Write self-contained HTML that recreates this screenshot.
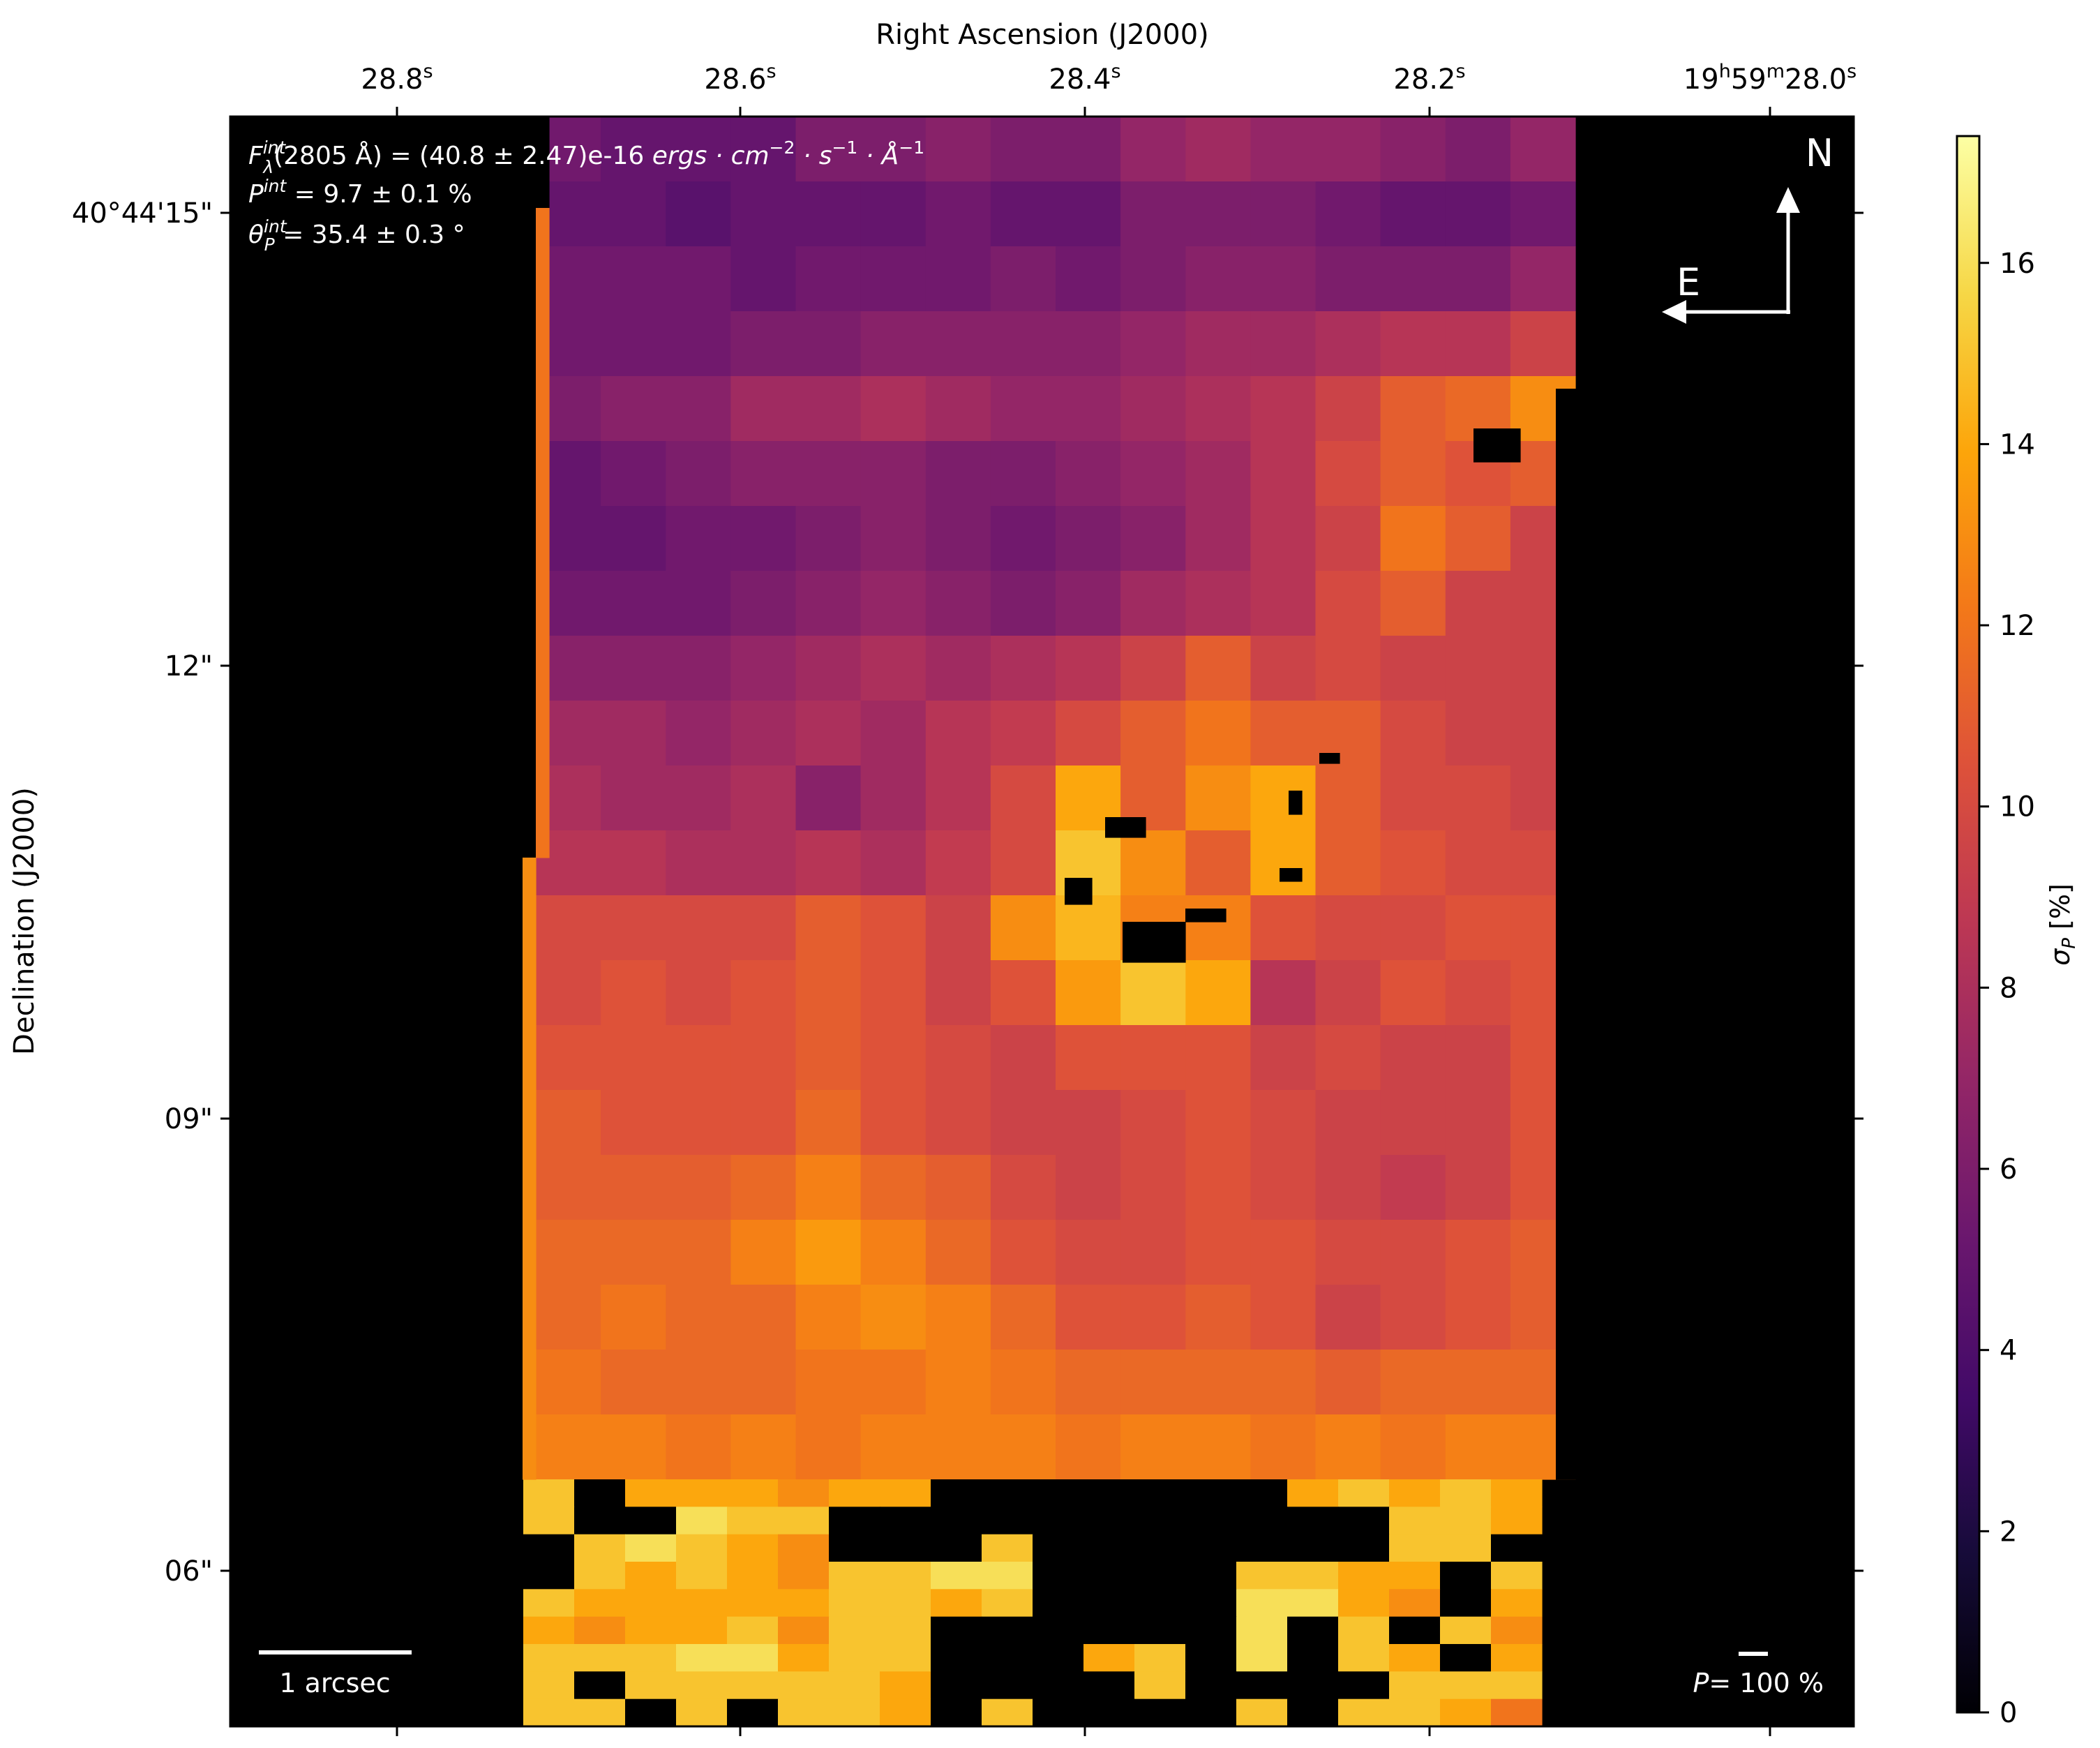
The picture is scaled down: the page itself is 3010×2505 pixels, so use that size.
<!DOCTYPE html>
<html><head><meta charset="utf-8"><style>
html,body{margin:0;padding:0;background:#fff;}
svg{display:block;font-family:"DejaVu Sans","Liberation Sans",sans-serif;}
</style></head><body>
<svg id="fig" width="3010" height="2505" viewBox="0 0 3010 2505" xmlns="http://www.w3.org/2000/svg">
<defs>
<linearGradient id="cbgrad" x1="0" y1="1" x2="0" y2="0">
<stop offset="0" stop-color="#000004"/><stop offset="0.1" stop-color="#160b39"/><stop offset="0.2" stop-color="#420a68"/><stop offset="0.3" stop-color="#6a176e"/><stop offset="0.4" stop-color="#932667"/><stop offset="0.5" stop-color="#bc3754"/><stop offset="0.6" stop-color="#dd513a"/><stop offset="0.7" stop-color="#f37819"/><stop offset="0.8" stop-color="#fca50a"/><stop offset="0.9" stop-color="#f6d746"/><stop offset="1" stop-color="#fcffa4"/>
</linearGradient>
<clipPath id="axclip"><rect x="330" y="167" width="2327" height="2307"/></clipPath>
</defs>
<rect x="330" y="167" width="2327" height="2307" fill="#000"/>
<g id="heat" clip-path="url(#axclip)"></g>
<g id="overlay"></g>
<rect x="330" y="167" width="2327" height="2307" fill="none" stroke="#000" stroke-width="3"/>
<g id="ticks"></g>
<text x="1494" y="63" font-size="40" text-anchor="middle">Right Ascension (J2000)</text>
<text transform="translate(48,1320) rotate(-90)" font-size="40" text-anchor="middle">Declination (J2000)</text>

<g fill="#fff" font-size="36">
<text x="356" y="235"><tspan font-style="italic">F</tspan><tspan font-size="25" font-style="italic" dy="-15">int</tspan><tspan font-size="25" font-style="italic" dx="-32" dy="28">λ</tspan><tspan dy="-13">(2805 Å) = (40.8 ± 2.47)e-16 </tspan><tspan font-style="italic">ergs · cm</tspan><tspan font-size="25" dy="-15">−2</tspan><tspan font-style="italic" dy="15"> · s</tspan><tspan font-size="25" dy="-15">−1</tspan><tspan font-style="italic" dy="15"> · Å</tspan><tspan font-size="25" dy="-15">−1</tspan></text>
<text x="356" y="290"><tspan font-style="italic">P</tspan><tspan font-size="25" font-style="italic" dy="-15">int</tspan><tspan dy="15"> = 9.7 ± 0.1 %</tspan></text>
<text x="356" y="348"><tspan font-style="italic">θ</tspan><tspan font-size="25" font-style="italic" dy="-15">int</tspan><tspan font-size="25" font-style="italic" dx="-32" dy="26">P</tspan><tspan dy="-11"> = 35.4 ± 0.3 °</tspan></text>
</g>

<g>
<line x1="2563" y1="450" x2="2563" y2="300" stroke="#fff" stroke-width="5"/>
<polygon points="2563,268 2546,305 2580,305" fill="#fff"/>
<line x1="2566" y1="447" x2="2412" y2="447" stroke="#fff" stroke-width="5"/>
<polygon points="2382,447 2417,430 2417,464" fill="#fff"/>
<text x="2608" y="238" fill="#fff" font-size="54" text-anchor="middle">N</text>
<text x="2420" y="423" fill="#fff" font-size="54" text-anchor="middle">E</text>
</g>
<g>
<rect x="371" y="2365" width="219" height="6" fill="#fff"/>
<text x="480" y="2425" fill="#fff" font-size="38" text-anchor="middle">1 arcsec</text>
</g>
<g>
<rect x="2492" y="2367" width="42" height="6" fill="#fff"/>
<text x="2614" y="2425" fill="#fff" font-size="38" text-anchor="end"><tspan font-style="italic">P</tspan>= 100 %</text>
</g>

<rect x="2805" y="195" width="32" height="2259" fill="url(#cbgrad)" stroke="#000" stroke-width="3"/>
<g id="cbticks"></g>
<text transform="translate(2966,1325) rotate(-90)" font-size="38" text-anchor="middle"><tspan font-style="italic">σ</tspan><tspan font-size="26" font-style="italic" dy="8">P</tspan><tspan dy="-8"> [%]</tspan></text>
</svg>
<script>
const NS="http://www.w3.org/2000/svg";
const VMAX=17.4;
// main map blocks (rows top->bottom, 16 cols)
const mainRows=[
[5.5,5,5,5,6,6,6.5,6,6,7,7.5,7,7,6.5,6,7],
[5,5,4.5,5,5,5,5.5,5,5,6,6,6,5.5,5,5,5.5],
[5.5,5.5,5.5,5,5.5,5.5,5.5,6,5.5,6,6.5,6.5,6,6,6,7],
[5.5,5.5,5.5,6,6,6.5,6.5,6.5,6.5,7,7.5,7.5,8,8.5,8.5,9.5],
[6,6.5,6.5,7.5,7.5,8,7.5,7,7,7.5,8,8.5,9.5,11,11.5,13],
[5,5.5,6,6.5,6.5,6.5,6,6,6.5,7,7.5,8.5,10,11,10.5,11],
[5,5,5.5,5.5,6,6.5,6,5.5,6,6.5,7.5,8.5,9.5,12,11,9.5],
[5.5,5.5,5.5,6,6.5,7,6.5,6,6.5,7.5,8,8.5,10,11,9.5,9.5],
[6.5,6.5,6.5,7,7.5,8,7.5,8,8.5,9.5,11,9.5,10,9.5,9.5,9.5],
[7.5,7.5,7,7.5,8,7.5,8.5,9,10,11,12,11,11,10,9.5,9.5],
[8,7.5,7.5,8,6.5,7.5,8.5,10,14,11,13,14,11,10,10,9.5],
[8.5,8.5,8,8,8.5,8,9,10,15,13,11,14,11,10.5,10,10],
[10,10,10,10,11,10.5,9.5,13,14.5,12.5,12.5,10.5,10,10,10.5,10.5],
[10,10.5,10,10.5,11,10.5,9.5,10.5,13.5,15,14,8.5,9.5,10.5,10,10.5],
[10.5,10.5,10.5,10.5,11,10.5,10,9.5,10.5,10.5,10.5,9.5,10,9.5,9.5,10.5],
[11,10.5,10.5,10.5,11.5,10.5,10,9.5,9.5,10,10.5,10,9.5,9.5,9.5,10.5],
[11,11,11,11.5,12.5,11.5,11,10,9.5,10,10.5,10,9.5,9,9.5,10.5],
[11.5,11.5,11.5,12.5,13.5,12.5,11.5,10.5,10,10,10.5,10.5,10,10,10.5,11],
[11.5,12,11.5,11.5,12.5,13,12.5,11.5,10.5,10.5,11,10.5,9.5,10,10.5,11],
[12,11.5,11.5,11.5,12,12,12.5,12,11.5,11.5,11.5,11.5,11,11.5,11.5,11.5],
[12.5,12.5,12,12.5,12,12.5,12.5,12.5,12,12.5,12.5,12,12.5,12,12.5,12.5]
];
// bottom noisy region (rows top->bottom, 20 cols), 0 = masked
const bottomRows=[
[15,0,14,14,14,13,14,14,0,0,0,0,0,0,0,14,15,14,15,14],
[15,0,0,16,15,15,0,0,0,0,0,0,0,0,0,0,0,15,15,14],
[0,15,16,15,14,13,0,0,0,15,0,0,0,0,0,0,0,15,15,0],
[0,15,14,15,14,13,15,15,16,16,0,0,0,0,15,15,14,14,0,15],
[15,14,14,14,14,14,15,15,14,15,0,0,0,0,16,16,14,13,0,14],
[14,13,14,14,15,13,15,15,0,0,0,0,0,0,16,0,15,0,15,13],
[15,15,15,16,16,14,15,15,0,0,0,14,15,0,16,0,15,14,0,14],
[15,0,15,15,15,15,15,14,0,0,0,0,15,0,0,0,0,15,15,15],
[15,15,0,15,0,15,15,14,0,15,0,0,0,0,15,0,15,15,14,12]
];
// masked (no data) holes in main map
const holeCols=[[2112,614,67,48],[1584,1171,58,29],[1526,1258,39,38],[1609,1321,90,58],[1699,1302,58,19],[1847,1133,19,34],[1891,1079,29,15],[1834,1244,32,19]];

const stops=[[0,0,0,4],[0.1,22,11,57],[0.2,66,10,104],[0.3,106,23,110],[0.4,147,38,103],[0.5,188,55,84],[0.6,221,81,58],[0.7,243,120,25],[0.8,252,165,10],[0.9,246,215,70],[1,252,255,164]];
function cmap(v){let t=Math.max(0,Math.min(1,v/VMAX));for(let i=1;i<stops.length;i++){if(t<=stops[i][0]){const a=stops[i-1],b=stops[i];const f=(t-a[0])/(b[0]-a[0]);return "rgb("+[1,2,3].map(k=>Math.round(a[k]+(b[k]-a[k])*f)).join(",")+")";}}return "rgb(252,255,164)";}

const MX0=768,MX1=2258,MY0=167,MY1=2120;
function mx(c){return MX0+(MX1-MX0)*c/16;}
function my(r){return MY0+(MY1-MY0)*r/mainRows.length;}
const BX0=750,BX1=2210,BY0=2120,BY1=2474;
function bx(c){return BX0+(BX1-BX0)*c/20;}
function by(r){return BY0+(BY1-BY0)*r/bottomRows.length;}

const heat=document.getElementById('heat');
function rect(parent,x,y,w,h,fill){const el=document.createElementNS(NS,'rect');el.setAttribute('x',x.toFixed(1));el.setAttribute('y',y.toFixed(1));el.setAttribute('width',(w+0.6).toFixed(1));el.setAttribute('height',(h+0.6).toFixed(1));el.setAttribute('fill',fill);parent.appendChild(el);return el;}
mainRows.forEach((row,r)=>row.forEach((v,c)=>{
  const el=rect(heat,mx(c),my(r),mx(c+1)-mx(c),my(r+1)-my(r),cmap(v));
  
  
}));
bottomRows.forEach((row,r)=>row.forEach((v,c)=>{
  const el=rect(heat,bx(c),by(r),bx(c+1)-bx(c),by(r+1)-by(r),v>0?cmap(v):'#000');
  
  
}));
const ov=document.getElementById('overlay');
let e;
e=rect(ov,768,167,19,131,'#000');
e=rect(ov,2230,557,30,1563,'#000');
e=rect(ov,749,1229,19,891,cmap(13));
e=rect(ov,768,298,19,931,cmap(12));
holeCols.forEach(h=>{const el=rect(ov,h[0],h[1],h[2],h[3],'#000');
  
  });

const xTickLabels=['28.8','28.6','28.4','28.2','19h59m28.0'];
const xTickPos=[569,1061,1555,2049,2537];
const yTickLabels=['40°44\'15"','12"','09"','06"'];
const yTickPos=[305,954,1603,2251];
const tk=document.getElementById('ticks');
function line(p,x1,y1,x2,y2,w){const l=document.createElementNS(NS,'line');l.setAttribute('x1',x1);l.setAttribute('y1',y1);l.setAttribute('x2',x2);l.setAttribute('y2',y2);l.setAttribute('stroke','#000');l.setAttribute('stroke-width',w||3);p.appendChild(l);return l;}
xTickLabels.forEach((lab,i)=>{
  const x=xTickPos[i];
  const t1=line(tk,x,167,x,153);
  const t2=line(tk,x,2474,x,2488);
  const t=document.createElementNS(NS,'text');t.setAttribute('x',x);t.setAttribute('y',127);t.setAttribute('font-size','40');t.setAttribute('text-anchor','middle');
  if(lab.indexOf('h')>0){t.innerHTML='19<tspan font-size="27" dy="-16">h</tspan><tspan dy="16">59</tspan><tspan font-size="27" dy="-16">m</tspan><tspan dy="16">28.0</tspan><tspan font-size="27" dy="-16">s</tspan>';}
  else{t.innerHTML=lab+'<tspan font-size="27" dy="-16">s</tspan>';}
  
  
  tk.appendChild(t);
});
yTickLabels.forEach((lab,i)=>{
  const y=yTickPos[i];
  const t1=line(tk,330,y,316,y);
  const t2=line(tk,2657,y,2671,y);
  const t=document.createElementNS(NS,'text');t.setAttribute('x',305);t.setAttribute('y',y+14);t.setAttribute('font-size','40');t.setAttribute('text-anchor','end');t.textContent=lab;
  
  
  tk.appendChild(t);
});
const cbTicks=[0,2,4,6,8,10,12,14,16];
function cy(v){return 2454-(2454-195)*v/VMAX;}
const cbt=document.getElementById('cbticks');
cbTicks.forEach(v=>{
  const l=line(cbt,2837,cy(v),2851,cy(v));
  const t=document.createElementNS(NS,'text');t.setAttribute('x',2866);t.setAttribute('y',cy(v)+14);t.setAttribute('font-size','40');t.textContent=v;
  
  
  cbt.appendChild(t);
});
</script>
</body></html>
